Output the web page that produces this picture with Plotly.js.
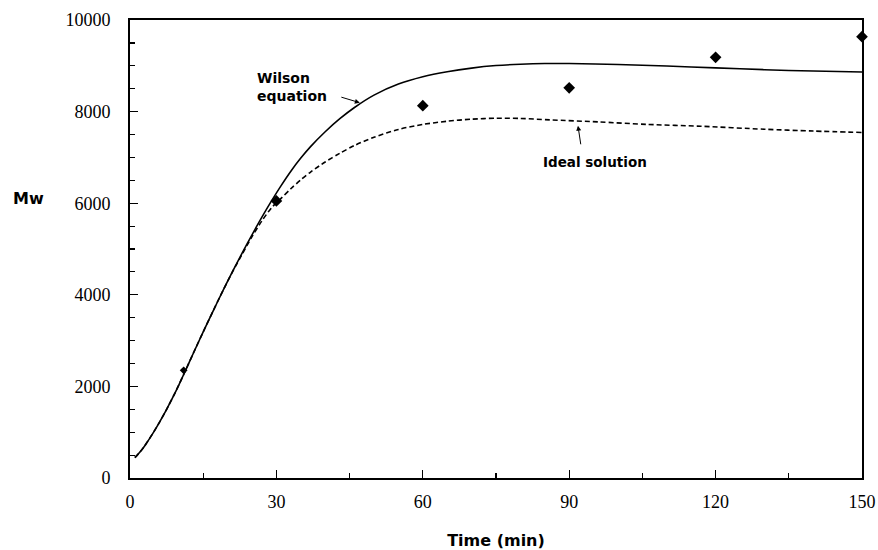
<!DOCTYPE html>
<html>
<head>
<meta charset="utf-8">
<script src="https://cdn.plot.ly/plotly-3.0.1.min.js"></script>
<style>html,body{margin:0;padding:0;background:#fff;}#chart{width:878px;height:550px;}</style>
</head>
<body>
<div id="chart"></div>
<script>
// Wilson equation model curve
const wilsonT = [1, 2, 3, 4, 5, 6, 7, 8, 9, 10, 11, 13, 15, 17, 19, 21, 23, 25, 27, 29, 31, 33, 35, 37, 40, 43, 46, 50, 55, 60, 65, 70, 75, 80, 85, 90, 100, 110, 120, 130, 140, 150];
const wilsonMw = [445, 560, 700, 860, 1030, 1210, 1400, 1600, 1810, 2030, 2260, 2730, 3190, 3640, 4080, 4505, 4915, 5310, 5690, 6050, 6390, 6705, 6985, 7235, 7560, 7845, 8090, 8360, 8600, 8760, 8870, 8950, 9005, 9035, 9050, 9050, 9030, 8995, 8955, 8915, 8885, 8865];
// Ideal solution model curve
const idealT = [1, 2, 3, 4, 5, 6, 7, 8, 9, 10, 11, 13, 15, 17, 19, 21, 23, 25, 27, 29, 31, 33, 35, 37, 40, 43, 46, 50, 55, 60, 65, 70, 75, 80, 86, 96, 106, 117, 130, 140, 150];
const idealMw = [445, 560, 700, 860, 1030, 1210, 1400, 1600, 1810, 2030, 2260, 2730, 3190, 3640, 4080, 4500, 4890, 5270, 5610, 5900, 6110, 6320, 6510, 6680, 6900, 7090, 7260, 7440, 7610, 7720, 7790, 7835, 7855, 7850, 7820, 7775, 7720, 7680, 7615, 7575, 7545];
// Experimental points
const expT = [11, 30, 60, 90, 120, 150];
const expMw = [2350, 6050, 8130, 8520, 9185, 9636];
// Ticks
const xTicks = [0, 30, 60, 90, 120, 150];
const yTicks = [0, 2000, 4000, 6000, 8000, 10000];

const traces = [
  {x: wilsonT, y: wilsonMw, mode: 'lines', line: {color: '#000', width: 1.6, shape: 'spline', smoothing: 0.8}, hoverinfo: 'skip'},
  {x: idealT, y: idealMw, mode: 'lines', line: {color: '#000', width: 1.6, dash: '5px,3px', shape: 'spline', smoothing: 0.8}, hoverinfo: 'skip'},
  {x: expT, y: expMw, mode: 'markers', marker: {symbol: 'diamond', size: expT.map((t, i) => i === 0 ? 6 : 9), color: '#000', opacity: 1, line: {width: 0}}, cliponaxis: false}
];

const tickFont = {family: 'Liberation Serif, Times New Roman, serif', size: 18, color: '#000'};
const labFont = {family: 'DejaVu Sans, sans-serif', size: 14, color: '#000', weight: 'bold'};

const layout = {
  width: 878, height: 550,
  margin: {l: 130, r: 16, t: 20, b: 72},
  paper_bgcolor: '#fff', plot_bgcolor: '#fff',
  showlegend: false,
  xaxis: {
    range: [0, 150], tickvals: xTicks, ticktext: xTicks.map(String),
    ticks: 'inside', ticklen: 8, tickwidth: 1.2, tickcolor: '#000',
    minor: {dtick: 15, tick0: 0, ticks: 'inside', ticklen: 5, tickwidth: 1.2, tickcolor: '#000', showgrid: false},
    showline: true, linecolor: '#000', linewidth: 2, mirror: true,
    showgrid: false, zeroline: false, tickfont: tickFont, ticklabelstandoff: 6,
    title: {text: 'Time (min)', font: {family: 'DejaVu Sans, sans-serif', size: 16, color: '#000', weight: 'bold'}, standoff: 26}
  },
  yaxis: {
    range: [0, 10000], tickvals: yTicks, ticktext: yTicks.map(String),
    ticks: 'inside', ticklen: 8, tickwidth: 1.2, tickcolor: '#000',
    minor: {dtick: 500, tick0: 0, ticks: 'inside', ticklen: 5, tickwidth: 1.2, tickcolor: '#000', showgrid: false},
    showline: true, linecolor: '#000', linewidth: 2, mirror: true,
    showgrid: false, zeroline: false, tickfont: tickFont, ticklabelstandoff: 14
  },
  annotations: [
    {xref: 'paper', yref: 'y', x: -0.139, y: 6100, xanchor: 'center', yanchor: 'middle', text: 'Mw', showarrow: false,
     font: {family: 'DejaVu Sans, sans-serif', size: 16, color: '#000', weight: 'bold'}},
    {x: 25.6, y: 8548, xref: 'x', yref: 'y', xanchor: 'left', yanchor: 'middle', align: 'left', text: 'Wilson<br>equation', showarrow: false, font: labFont},
    {x: 47.1, y: 8194, xref: 'x', yref: 'y', ax: -20, ay: -6, showarrow: true, arrowhead: 2, arrowsize: 1, arrowwidth: 1, arrowcolor: '#000', text: ''},
    {x: 95.3, y: 6900, xref: 'x', yref: 'y', xanchor: 'center', yanchor: 'middle', text: 'Ideal solution', showarrow: false, font: {family: 'DejaVu Sans, sans-serif', size: 13.5, color: '#000', weight: 'bold'}},
    {x: 91.8, y: 7690, xref: 'x', yref: 'y', ax: 3, ay: 20, showarrow: true, arrowhead: 2, arrowsize: 1, arrowwidth: 1, arrowcolor: '#000', text: ''}
  ]
};

Plotly.newPlot('chart', traces, layout, {displayModeBar: false, staticPlot: true});
</script>
</body>
</html>
